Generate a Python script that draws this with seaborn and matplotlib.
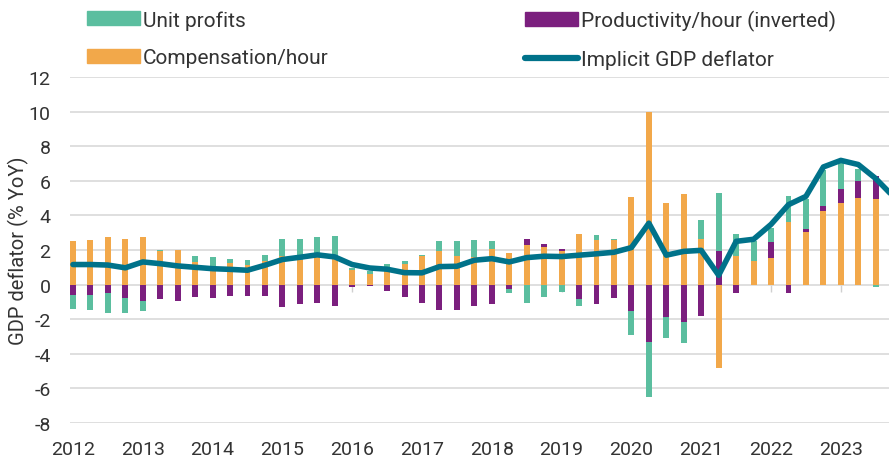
import numpy as np
import pandas as pd
import matplotlib
matplotlib.use("Agg")
import matplotlib.pyplot as plt
from matplotlib.patches import Patch
from matplotlib.lines import Line2D
import seaborn as sns

# quarterly data, 2012Q1 .. 2023Q4 (bars shown through 2023Q3)
quarters = pd.period_range("2012Q1", "2023Q4", freq="Q")
years = list(range(2012, 2024))

compensation = [2.54, 2.58, 2.74, 2.64, 2.75, 1.93, 1.98, 1.31, 0.95, 1.25,
                1.12, 1.38, 1.67, 1.45, 1.60, 1.55, 0.87, 0.64, 1.02, 1.20,
                1.65, 1.94, 1.64, 1.62, 2.08, 1.83, 2.29, 2.20, 1.93, 2.93,
                2.60, 2.57, 5.05, 9.98, 4.74, 5.24, 2.66, -4.82, 1.68, 1.34,
                1.53, 3.64, 3.05, 4.24, 4.74, 5.01, 4.97]
productivity = [-0.62, -0.58, -0.48, -0.77, -0.92, -0.85, -0.92, -0.69, -0.75, -0.65,
                -0.67, -0.67, -1.31, -1.14, -1.06, -1.23, -0.15, -0.08, -0.37, -0.73,
                -1.07, -1.48, -1.48, -1.22, -1.12, -0.26, 0.34, 0.15, 0.15, -0.86,
                -1.10, -0.76, -1.55, -3.31, -1.85, -2.18, -1.81, 1.93, -0.48, 0.05,
                0.91, -0.48, 0.14, 0.32, 0.76, 0.95, 1.30]
unit_profits = [-0.77, -0.87, -1.14, -0.89, -0.58, 0.07, 0.0, 0.35, 0.65, 0.25,
                0.33, 0.32, 0.97, 1.17, 1.15, 1.28, 0.09, 0.16, 0.17, 0.19,
                0.06, 0.60, 0.86, 0.93, 0.46, -0.22, -1.06, -0.74, -0.43, -0.35,
                0.29, 0.08, -1.38, -3.18, -1.23, -1.17, 1.10, 3.39, 1.25, 1.15,
                0.86, 1.46, 1.78, 2.05, 1.60, 0.75, -0.14]
deflator = [1.16, 1.16, 1.13, 0.97, 1.31, 1.21, 1.08, 1.00, 0.92, 0.88,
            0.83, 1.12, 1.45, 1.58, 1.72, 1.60, 1.16, 0.96, 0.89, 0.69,
            0.68, 1.04, 1.06, 1.41, 1.50, 1.31, 1.56, 1.64, 1.62, 1.70,
            1.78, 1.87, 2.14, 3.55, 1.70, 1.92, 1.98, 0.54, 2.50, 2.62,
            3.48, 4.62, 5.10, 6.80, 7.18, 6.94, 6.13, 5.10]

c_profit = "#5bbe9f"
c_prod = "#7b1f7e"
c_comp = "#f2a84a"
c_line = "#00728a"

sns.set_style("white")
plt.rcParams["font.family"] = ["Roboto", "DejaVu Sans"]
plt.rcParams["axes.unicode_minus"] = False
text_col = "#333333"

fig = plt.figure(figsize=(8.89, 4.64), dpi=100)
ax = fig.add_axes([70 / 889, 40 / 464, 819 / 889, 346 / 464])

n = len(compensation)
x = np.arange(n)
pos_base = np.zeros(n)
neg_base = np.zeros(n)
for vals, col in [(compensation, c_comp), (productivity, c_prod), (unit_profits, c_profit)]:
    v = np.array(vals)
    base = np.where(v >= 0, pos_base, neg_base)
    ax.bar(x, v, bottom=base, width=0.34, color=col, linewidth=0, zorder=2)
    pos_base += np.clip(v, 0, None)
    neg_base += np.clip(v, None, 0)

sns.lineplot(x=np.arange(len(deflator)), y=deflator, ax=ax, color=c_line,
             linewidth=4, zorder=3, solid_joinstyle="round")

xt = np.arange(0, len(quarters), 4)
ax.vlines(xt, -0.4, 0, color="#d0d0d0", linewidth=1, zorder=1)
ax.set_xticks(xt)
ax.set_xticklabels([str(y) for y in years])
ax.set_yticks(range(-8, 13, 2))
ax.set_xlim(-0.17, 46.76)
ax.set_ylim(-8, 12)
ax.grid(axis="y", color="#dcdcdc", linewidth=1.3)
ax.set_axisbelow(True)
for s in ax.spines.values():
    s.set_visible(False)
ax.tick_params(axis="both", length=0, labelsize=14, colors=text_col)
ax.tick_params(axis="y", pad=14)
ax.tick_params(axis="x", pad=12)
ax.set_xlabel("")
fig.text(18 / 889, 0.459, "GDP deflator (% YoY)", rotation=90, ha="center",
         va="center", fontsize=14.5, color=text_col)

leg_kw = dict(loc="upper left", frameon=False, borderpad=0, borderaxespad=0,
              handlelength=2.55, handleheight=0.65, handletextpad=0.15,
              labelspacing=0.9, fontsize=15, labelcolor=text_col)
h1 = [Patch(color=c_profit), Patch(color=c_comp)]
fig.legend(h1, ["Unit profits", "Compensation/hour"],
           bbox_to_anchor=(87 / 889, 0.976), **leg_kw)
h2 = [Patch(color=c_prod),
      Line2D([], [], color=c_line, linewidth=4.5, solid_capstyle="round")]
fig.legend(h2, ["Productivity/hour (inverted)", "Implicit GDP deflator"],
           bbox_to_anchor=(525 / 889, 0.976), **leg_kw)

fig.savefig("out.png", dpi=100)
